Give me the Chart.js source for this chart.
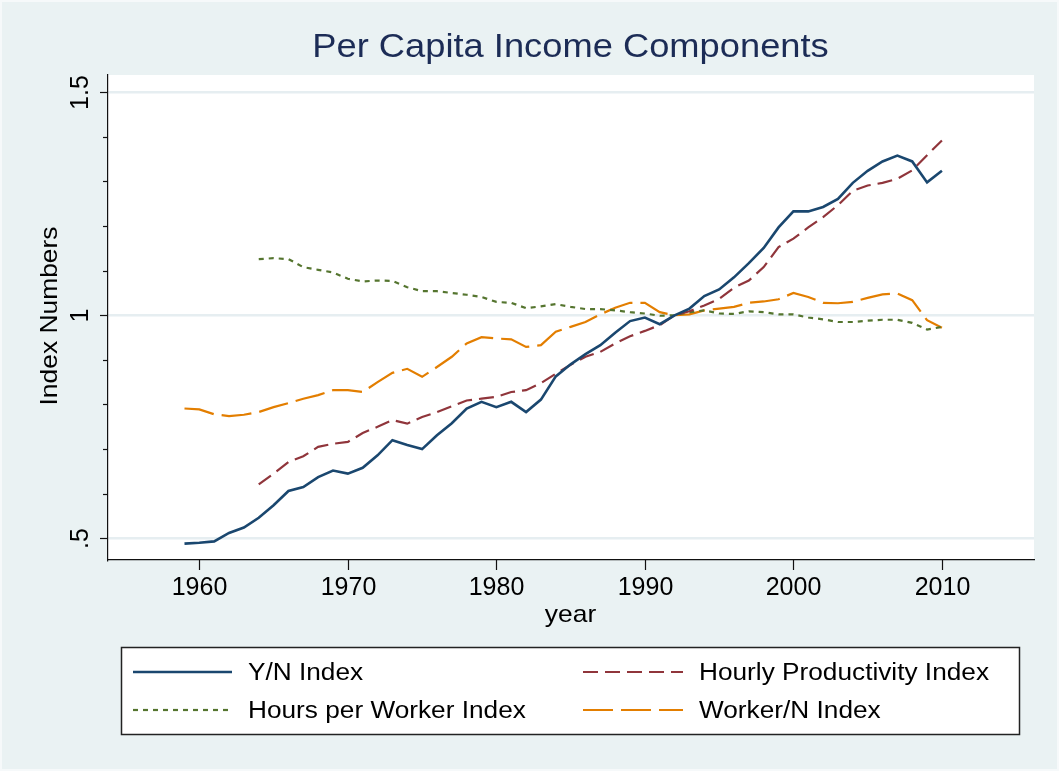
<!DOCTYPE html>
<html><head><meta charset="utf-8">
<script src="https://cdn.jsdelivr.net/npm/chart.js@4.4.1/dist/chart.umd.min.js"></script>
<style>html,body{margin:0;padding:0;background:#eaf2f3;overflow:hidden}canvas{display:block}</style>
</head><body>
<canvas id="c" width="1059" height="771"></canvas>
<script>
// ---------- data ----------
const chartTitle = 'Per Capita Income Components';
const xTitle = 'year';
const yTitle = 'Index Numbers';
const yearsFull = [1959,1960,1961,1962,1963,1964,1965,1966,1967,1968,1969,1970,1971,1972,1973,1974,1975,1976,1977,1978,1979,1980,1981,1982,1983,1984,1985,1986,1987,1988,1989,1990,1991,1992,1993,1994,1995,1996,1997,1998,1999,2000,2001,2002,2003,2004,2005,2006,2007,2008,2009,2010];
const yearsShort = [1964,1965,1966,1967,1968,1969,1970,1971,1972,1973,1974,1975,1976,1977,1978,1979,1980,1981,1982,1983,1984,1985,1986,1987,1988,1989,1990,1991,1992,1993,1994,1995,1996,1997,1998,1999,2000,2001,2002,2003,2004,2005,2006,2007,2008,2009,2010];
const ynIndex = [0.488,0.490,0.493,0.512,0.524,0.546,0.574,0.606,0.615,0.637,0.652,0.645,0.658,0.686,0.720,0.709,0.700,0.731,0.758,0.791,0.806,0.794,0.806,0.783,0.811,0.863,0.890,0.913,0.933,0.961,0.987,0.995,0.980,1.000,1.015,1.043,1.058,1.085,1.117,1.151,1.197,1.233,1.233,1.243,1.261,1.297,1.324,1.345,1.358,1.345,1.298,1.324];
const hourlyProdIndex = [0.621,0.645,0.671,0.684,0.705,0.712,0.716,0.736,0.750,0.765,0.757,0.772,0.783,0.796,0.809,0.813,0.817,0.828,0.832,0.848,0.869,0.889,0.907,0.918,0.937,0.953,0.965,0.978,1.000,1.009,1.022,1.037,1.062,1.078,1.108,1.153,1.172,1.197,1.220,1.247,1.279,1.291,1.297,1.306,1.325,1.359,1.392];
const hoursPerWorkerIndex = [1.126,1.128,1.126,1.108,1.102,1.096,1.082,1.076,1.078,1.077,1.063,1.054,1.054,1.050,1.046,1.041,1.030,1.028,1.016,1.020,1.025,1.019,1.014,1.014,1.011,1.007,1.004,0.999,1.000,1.007,1.011,1.004,1.003,1.009,1.007,1.002,1.002,0.995,0.991,0.985,0.985,0.988,0.990,0.990,0.983,0.968,0.974];
const workerNIndex = [0.791,0.789,0.778,0.774,0.777,0.783,0.794,0.803,0.813,0.821,0.832,0.832,0.828,0.850,0.871,0.880,0.862,0.884,0.907,0.937,0.951,0.948,0.946,0.929,0.933,0.963,0.974,0.985,1.002,1.017,1.028,1.028,1.007,1.000,1.002,1.011,1.015,1.019,1.028,1.031,1.036,1.050,1.041,1.028,1.027,1.030,1.039,1.047,1.049,1.034,0.989,0.972];
const xTicks = [1960,1970,1980,1990,2000,2010];
const xTickLabels = ['1960','1970','1980','1990','2000','2010'];
const yMajorTicks = [0.5,1,1.5];
const yMajorLabels = ['.5','1','1.5'];
const yMinorTicks = [0.6,0.7,0.8,0.9,1.1,1.2,1.3,1.4];
const seriesNames = ['Y/N Index','Hourly Productivity Index','Hours per Worker Index','Worker/N Index'];

// ---------- styles ----------
const FONT = '"Liberation Sans", Arial, Helvetica, sans-serif';
const BG = '#eaf2f3';
const styles = [
  {color:'#1a476f', width:2.6, dash:[]},
  {color:'#90353b', width:2.2, dash:[15,7]},
  {color:'#55752f', width:2.2, dash:[5,5]},
  {color:'#e37e00', width:2.2, dash:[30,8]}
];
const pts = (xs, ys) => xs.map((x,i)=>({x:x, y:ys[i]}));
const seriesData = [pts(yearsFull,ynIndex), pts(yearsShort,hourlyProdIndex), pts(yearsShort,hoursPerWorkerIndex), pts(yearsFull,workerNIndex)];

function txt(ctx, s, x, y, size, o) {
  o = o || {};
  ctx.save();
  ctx.translate(x, y);
  if (o.rot) ctx.rotate(o.rot);
  ctx.scale(o.sx || 1, 1);
  ctx.font = size + 'px ' + FONT;
  ctx.fillStyle = o.color || '#000';
  ctx.textAlign = o.align || 'left';
  ctx.textBaseline = 'alphabetic';
  ctx.fillText(s, 0, 0);
  ctx.restore();
}

const decor = {
  id: 'decor',
  beforeDraw(chart) {
    const ctx = chart.ctx, a = chart.chartArea;
    ctx.save();
    ctx.fillStyle = BG;
    ctx.fillRect(0, 0, chart.width, chart.height);
    ctx.strokeStyle = '#f6f9fa';
    ctx.lineWidth = 2;
    ctx.strokeRect(1, 1, chart.width - 2, chart.height - 2);
    ctx.fillStyle = '#ffffff';
    ctx.fillRect(a.left, a.top, a.right - a.left, a.bottom - a.top);
    ctx.restore();
  },
  afterDraw(chart) {
    const ctx = chart.ctx, a = chart.chartArea;
    const xs = chart.scales.x, ys = chart.scales.y;
    ctx.save();
    ctx.strokeStyle = '#111';
    ctx.lineWidth = 1.2;
    // y ticks
    yMajorTicks.forEach((v, i) => {
      const p = Math.round(ys.getPixelForValue(v)) + 0.5;
      ctx.beginPath(); ctx.moveTo(a.left - 8, p); ctx.lineTo(a.left, p); ctx.stroke();
      txt(ctx, yMajorLabels[i], 88, p, 25, {rot:-Math.PI/2, align:'center'});
    });
    yMinorTicks.forEach(v => {
      const p = Math.round(ys.getPixelForValue(v)) + 0.5;
      ctx.beginPath(); ctx.moveTo(a.left - 5, p); ctx.lineTo(a.left, p); ctx.stroke();
    });
    // x ticks
    xTicks.forEach((v, i) => {
      const p = Math.round(xs.getPixelForValue(v)) + 0.5;
      ctx.beginPath(); ctx.moveTo(p, a.bottom); ctx.lineTo(p, a.bottom + 10); ctx.stroke();
      txt(ctx, xTickLabels[i], p, 595, 25, {align:'center'});
    });
    // titles
    txt(ctx, chartTitle, 570.5, 57, 33, {align:'center', sx:1.1, color:'#1c2c56'});
    txt(ctx, xTitle, 570.5, 622, 24, {align:'center', sx:1.1});
    txt(ctx, yTitle, 57, 316, 24, {align:'center', sx:1.1, rot:-Math.PI/2});
    // legend
    ctx.fillStyle = '#fff';
    ctx.fillRect(121, 647, 899, 88);
    ctx.strokeStyle = '#222';
    ctx.lineWidth = 1.5;
    ctx.strokeRect(121.5, 647.5, 898, 87);
    const pos = [
      {x0:133, x1:232, y:672, tx:248, ty:680},
      {x0:583, x1:683, y:672, tx:699, ty:680},
      {x0:133, x1:232, y:710, tx:248, ty:718},
      {x0:583, x1:683, y:710, tx:699, ty:718}
    ];
    pos.forEach((p, i) => {
      const st = styles[i];
      ctx.save();
      ctx.strokeStyle = st.color;
      ctx.lineWidth = st.width;
      ctx.setLineDash(st.dash);
      ctx.beginPath(); ctx.moveTo(p.x0, p.y); ctx.lineTo(p.x1, p.y); ctx.stroke();
      ctx.restore();
      txt(ctx, seriesNames[i], p.tx, p.ty, 23, {sx:1.14});
    });
    ctx.restore();
  }
};

new Chart(document.getElementById('c'), {
  type: 'line',
  data: {
    datasets: seriesData.map((d, i) => ({
      label: seriesNames[i],
      data: d,
      borderColor: styles[i].color,
      borderWidth: styles[i].width,
      borderDash: styles[i].dash,
      pointRadius: 0,
      fill: false,
      tension: 0
    }))
  },
  options: {
    responsive: false,
    animation: false,
    devicePixelRatio: 1,
    layout: {padding: {top: 75, right: 25, left: 0, bottom: 0}},
    plugins: {legend: {display: false}, title: {display: false}, tooltip: {enabled: false}},
    scales: {
      x: {
        type: 'linear', min: 1953.85, max: 2016.2,
        afterBuildTicks: s => { s.ticks = xTicks.map(v => ({value: v})); },
        afterFit: s => { s.height = 211; },
        ticks: {display: false},
        grid: {display: false, drawTicks: false},
        border: {display: true, color: '#111', width: 1.2}
      },
      y: {
        type: 'linear', min: 0.4513, max: 1.5388,
        afterBuildTicks: s => { s.ticks = yMajorTicks.map(v => ({value: v})); },
        afterFit: s => { s.width = 108; },
        ticks: {display: false},
        grid: {display: true, drawTicks: false, color: '#e6eef1', lineWidth: 2.5},
        border: {display: true, color: '#111', width: 1.2}
      }
    }
  },
  plugins: [decor]
});
</script>
</body></html>
